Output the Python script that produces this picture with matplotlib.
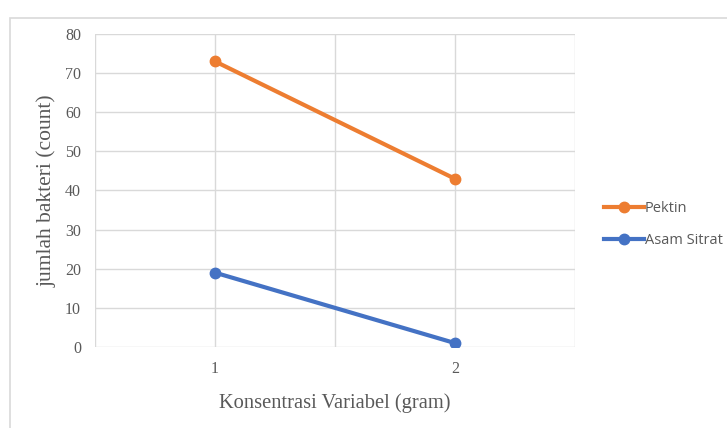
import matplotlib.pyplot as plt
from matplotlib.patches import Rectangle

konsentrasi = [1, 2]
pektin = [73, 43]
asam_sitrat = [19, 1]
y_ticks = [0, 10, 20, 30, 40, 50, 60, 70, 80]

fig = plt.figure(figsize=(7.27, 4.28), dpi=100)
ax = fig.add_axes([0.1307, 0.1893, 0.66, 0.7313])

# light frame around the whole chart
fig.patches.append(Rectangle((10 / 727, -0.05), 1.2, 1 - 18 / 428 + 0.05,
                             transform=fig.transFigure, fill=False,
                             edgecolor="#d9d9d9", linewidth=1.2))

ax.plot(konsentrasi, pektin, color="#ED7D31", linewidth=3, marker="o",
        markersize=7.5, label="Pektin", zorder=3)
ax.plot(konsentrasi, asam_sitrat, color="#4472C4", linewidth=3, marker="o",
        markersize=7.5, label="Asam Sitrat", zorder=3)

ax.set_xlim(0.5, 2.5)
ax.set_ylim(0, 80)
ax.set_xticks(konsentrasi)
ax.set_xticks([0.5, 1.5, 2.5], minor=True)
ax.set_yticks(y_ticks)
ax.grid(True, which="both", color="#d9d9d9", linewidth=1)
ax.set_axisbelow(True)
ax.tick_params(which="both", length=0, labelsize=11.5, labelcolor="#595959")
ax.tick_params(axis="y", pad=10)
ax.tick_params(axis="x", pad=10)
for lbl in ax.get_xticklabels() + ax.get_yticklabels():
    lbl.set_fontfamily("Liberation Serif")
for s in ax.spines.values():
    s.set_visible(False)

ax.set_xlabel("Konsentrasi Variabel (gram)", fontsize=14.8,
              fontfamily="Liberation Serif", color="#595959", labelpad=12)
ax.set_ylabel("jumlah bakteri (count)", fontsize=15.5,
              fontfamily="Liberation Serif", color="#595959", labelpad=6)

fig.legend(loc="center left", bbox_to_anchor=(0.813, 0.475), frameon=False,
           handlelength=2.7, handletextpad=0.1, labelspacing=1.2,
           prop={"family": "Open Sans", "size": 10.5}, labelcolor="#595959")

fig.savefig("out.png", dpi=100)
